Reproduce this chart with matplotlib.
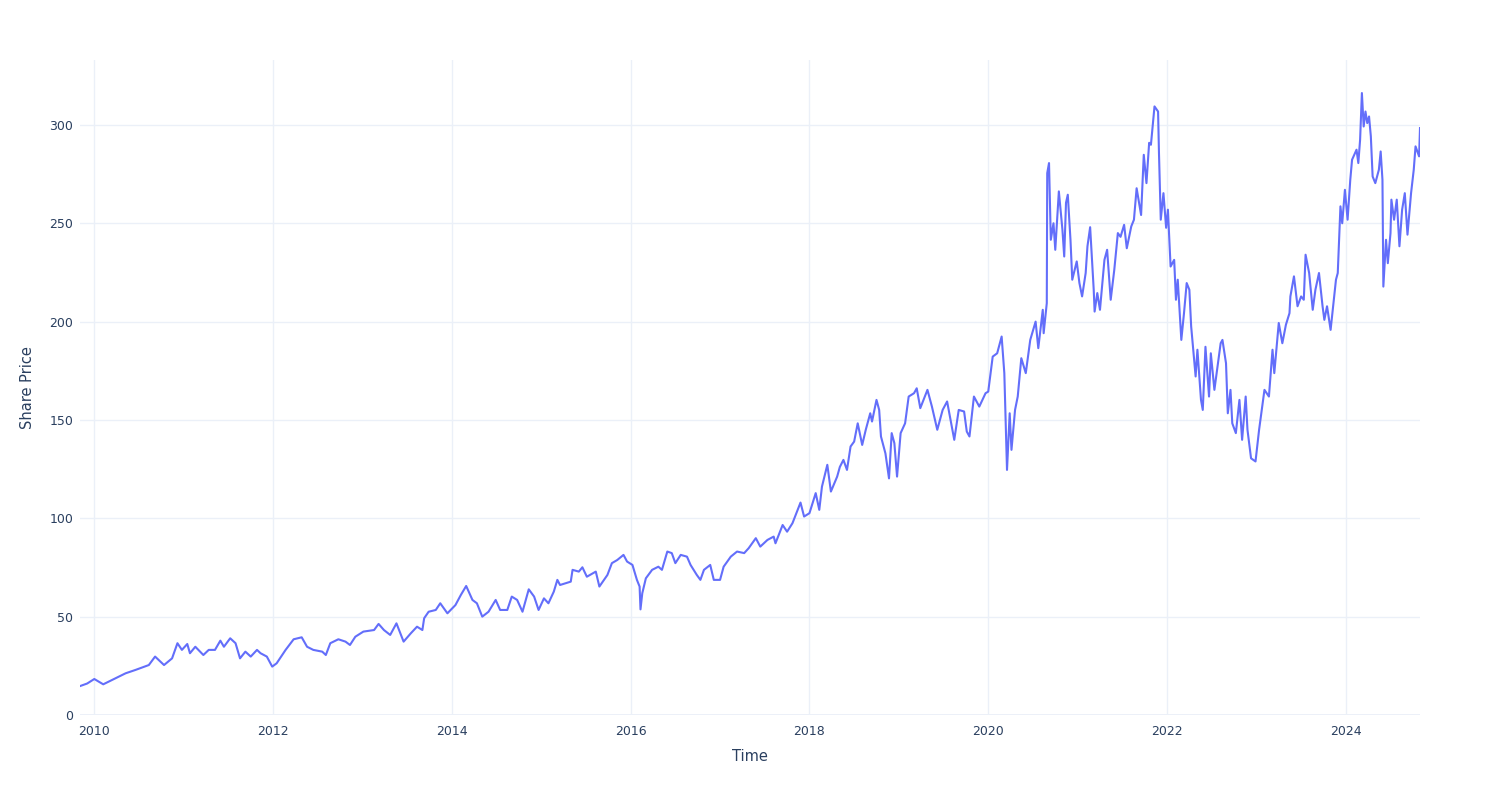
import matplotlib
matplotlib.use("Agg")
import matplotlib.pyplot as plt

# decimal year / share price
years = [
    2009.84, 2009.92, 2010.00, 2010.10, 2010.235, 2010.35, 2010.46, 2010.61, 2010.68, 2010.78,
    2010.87, 2010.93, 2010.98, 2011.04, 2011.07, 2011.13, 2011.22, 2011.28, 2011.35, 2011.41,
    2011.45, 2011.52, 2011.58, 2011.63, 2011.69, 2011.75, 2011.82, 2011.86, 2011.93, 2011.99,
    2012.04, 2012.14, 2012.23, 2012.32, 2012.38, 2012.45, 2012.55, 2012.59, 2012.64, 2012.73,
    2012.81, 2012.86, 2012.92, 2013.01, 2013.13, 2013.18, 2013.24, 2013.31, 2013.38, 2013.46,
    2013.54, 2013.61, 2013.67, 2013.69, 2013.74, 2013.82, 2013.87, 2013.95, 2014.04, 2014.10,
    2014.16, 2014.23, 2014.28, 2014.34, 2014.41, 2014.49, 2014.54, 2014.62, 2014.67, 2014.73,
    2014.79, 2014.86, 2014.92, 2014.97, 2015.03, 2015.08, 2015.14, 2015.18, 2015.21, 2015.33,
    2015.35, 2015.42, 2015.46, 2015.51, 2015.61, 2015.65, 2015.74, 2015.79, 2015.85, 2015.92,
    2015.96, 2016.02, 2016.07, 2016.10, 2016.11, 2016.13, 2016.17, 2016.24, 2016.31, 2016.35,
    2016.41, 2016.46, 2016.50, 2016.56, 2016.63, 2016.67, 2016.74, 2016.78, 2016.82, 2016.89,
    2016.93, 2017.00, 2017.04, 2017.12, 2017.19, 2017.27, 2017.32, 2017.40, 2017.45, 2017.53,
    2017.60, 2017.62, 2017.70, 2017.75, 2017.81, 2017.90, 2017.94, 2018.00, 2018.07, 2018.11,
    2018.14, 2018.20, 2018.24, 2018.31, 2018.34, 2018.38, 2018.42, 2018.46, 2018.50, 2018.54,
    2018.59, 2018.63, 2018.68, 2018.70, 2018.75, 2018.78, 2018.80, 2018.85, 2018.89, 2018.92,
    2018.95, 2018.98, 2019.02, 2019.07, 2019.11, 2019.17, 2019.20, 2019.24, 2019.32, 2019.37,
    2019.43, 2019.49, 2019.54, 2019.62, 2019.67, 2019.73, 2019.76, 2019.79, 2019.84, 2019.90,
    2019.97, 2020.00, 2020.05, 2020.10, 2020.15, 2020.18, 2020.21, 2020.24, 2020.26, 2020.30,
    2020.33, 2020.37, 2020.42, 2020.47, 2020.53, 2020.56, 2020.61, 2020.62, 2020.655, 2020.66,
    2020.68, 2020.70, 2020.73, 2020.75, 2020.79, 2020.83, 2020.85, 2020.87, 2020.89, 2020.92,
    2020.94, 2020.99, 2021.02, 2021.05, 2021.09, 2021.11, 2021.14, 2021.18, 2021.19, 2021.22,
    2021.25, 2021.30, 2021.33, 2021.37, 2021.41, 2021.45, 2021.48, 2021.52, 2021.55, 2021.60,
    2021.63, 2021.66, 2021.71, 2021.74, 2021.77, 2021.80, 2021.82, 2021.86, 2021.90, 2021.91,
    2021.93, 2021.96, 2021.99, 2022.01, 2022.04, 2022.08, 2022.10, 2022.12, 2022.16, 2022.19,
    2022.22, 2022.25, 2022.27, 2022.32, 2022.34, 2022.38, 2022.40, 2022.43, 2022.47, 2022.49,
    2022.53, 2022.57, 2022.60, 2022.62, 2022.66, 2022.68, 2022.71, 2022.73, 2022.77, 2022.81,
    2022.84, 2022.88, 2022.90, 2022.94, 2022.99, 2023.03, 2023.09, 2023.14, 2023.18, 2023.20,
    2023.25, 2023.29, 2023.33, 2023.37, 2023.38, 2023.42, 2023.46, 2023.50, 2023.53, 2023.55,
    2023.59, 2023.63, 2023.66, 2023.70, 2023.74, 2023.76, 2023.79, 2023.83, 2023.87, 2023.89,
    2023.91, 2023.94, 2023.96, 2023.99, 2024.02, 2024.05, 2024.07, 2024.12, 2024.14, 2024.16,
    2024.18, 2024.20, 2024.22, 2024.24, 2024.26, 2024.28, 2024.30, 2024.33, 2024.37, 2024.39,
    2024.41, 2024.42, 2024.45, 2024.47, 2024.50, 2024.51, 2024.54, 2024.57, 2024.60, 2024.63,
    2024.66, 2024.69, 2024.73, 2024.76, 2024.78, 2024.82, 2024.83,
]
price = [
    14.7, 16.0, 18.3, 15.6, 18.6, 21.2, 22.9, 25.4, 29.7, 25.4,
    28.8, 36.5, 33.1, 36.1, 31.4, 34.7, 30.5, 33.1, 33.1, 37.8,
    34.7, 39.0, 36.5, 28.8, 32.2, 29.7, 33.1, 31.4, 29.7, 24.6,
    26.3, 33.1, 38.5, 39.5, 34.7, 33.1, 32.2, 30.5, 36.5, 38.5,
    37.3, 35.6, 39.8, 42.4, 43.2, 46.3, 43.2, 40.7, 46.6, 37.3,
    41.5, 44.9, 43.2, 49.2, 52.5, 53.4, 56.8, 51.7, 55.9, 61.0,
    65.6, 58.5, 56.8, 50.0, 52.5, 58.5, 53.4, 53.4, 60.2, 58.5,
    52.5, 63.9, 60.2, 53.4, 59.3, 56.8, 62.7, 68.7, 66.1, 67.8,
    73.8, 72.9, 75.1, 70.3, 72.9, 65.3, 71.2, 77.2, 78.8, 81.4,
    78.0, 76.3, 68.7, 65.3, 53.7, 61.9, 69.5, 73.8, 75.4, 73.8,
    83.1, 82.3, 77.2, 81.4, 80.5, 76.3, 71.2, 68.7, 73.8, 76.3,
    68.7, 68.7, 75.4, 80.5, 83.1, 82.3, 84.8, 89.9, 85.6, 89.0,
    90.7, 87.3, 96.6, 93.2, 97.5, 108.0, 100.9, 102.6, 112.8, 104.3,
    116.1, 127.2, 113.6, 121.2, 126.1, 129.7, 124.6, 136.5, 139.0, 148.3,
    137.3, 145.0, 153.4, 149.2, 160.2, 155.1, 141.6, 133.0, 120.3, 143.3,
    138.2, 121.2, 143.3, 148.3, 161.9, 163.6, 166.1, 156.0, 165.3, 156.8,
    145.0, 155.1, 159.4, 139.9, 155.1, 154.3, 144.1, 141.6, 161.9, 156.8,
    163.6, 164.4, 182.2, 183.9, 192.4, 173.8, 124.6, 153.4, 134.8, 155.1,
    161.9, 181.4, 173.8, 190.7, 200.0, 186.5, 206.0, 194.1, 209.4, 275.5,
    280.6, 241.6, 250.0, 236.5, 266.2, 246.7, 233.1, 260.4, 264.5, 241.6,
    221.3, 230.6, 219.6, 212.8, 224.7, 238.3, 248.0, 216.2, 205.1, 214.5,
    206.0, 231.4, 236.5, 211.1, 226.3, 245.0, 243.1, 249.2, 237.3, 248.4,
    251.8, 267.8, 254.2, 284.8, 270.4, 290.9, 289.9, 309.4, 306.8, 285.7,
    251.8, 265.3, 247.7, 256.9, 228.0, 231.4, 211.1, 221.3, 190.7, 204.3,
    219.6, 216.2, 197.6, 172.1, 185.7, 160.2, 155.1, 187.2, 161.9, 183.9,
    165.3, 178.8, 189.0, 190.7, 178.8, 153.4, 165.3, 148.3, 143.3, 160.2,
    139.9, 161.9, 145.0, 130.5, 128.9, 145.0, 165.3, 161.9, 185.7, 173.8,
    199.3, 189.0, 198.4, 204.3, 212.8, 223.0, 207.8, 212.8, 211.1, 234.0,
    224.7, 206.0, 216.2, 224.7, 207.8, 200.9, 207.8, 195.8, 212.8, 221.3,
    224.7, 258.6, 250.0, 267.0, 251.8, 272.1, 282.3, 287.4, 280.6, 292.5,
    316.2, 299.2, 306.8, 300.9, 304.3, 294.2, 273.8, 270.4, 277.2, 286.5,
    272.1, 217.8, 241.6, 229.7, 245.0, 262.0, 251.8, 262.0, 238.3, 256.9,
    265.3, 244.2, 265.3, 277.2, 289.1, 284.0, 298.4,
]
year_ticks = [2010, 2012, 2014, 2016, 2018, 2020, 2022, 2024]
price_ticks = [0, 50, 100, 150, 200, 250, 300]

grid_col = "#EBF0F8"
text_col = "#2a3f5f"

fig = plt.figure(figsize=(15, 8), dpi=100)
ax = fig.add_axes([80 / 1500, 1 - 715 / 800, 1340 / 1500, 655 / 800])

ax.plot(years, price, color="#636efa", lw=1.5, zorder=3)

ax.set_xlim(years[0], years[-1])
ax.set_ylim(0, 333)
ax.set_xticks(year_ticks)
ax.set_xticklabels([str(y) for y in year_ticks])
ax.set_yticks(price_ticks)
ax.grid(True, color=grid_col, lw=1, zorder=0)
ax.axhline(0, color=grid_col, lw=2, zorder=1)
for s in ax.spines.values():
    s.set_visible(False)
ax.tick_params(length=0, labelsize=9, labelcolor=text_col)
ax.tick_params(axis="x", pad=7)
ax.tick_params(axis="y", pad=5)

ax.set_xlabel("Time", fontsize=10.5, color=text_col, labelpad=8)
ax.set_ylabel("Share Price", fontsize=10.5, color=text_col, labelpad=10)

fig.savefig("out.png", dpi=100)
